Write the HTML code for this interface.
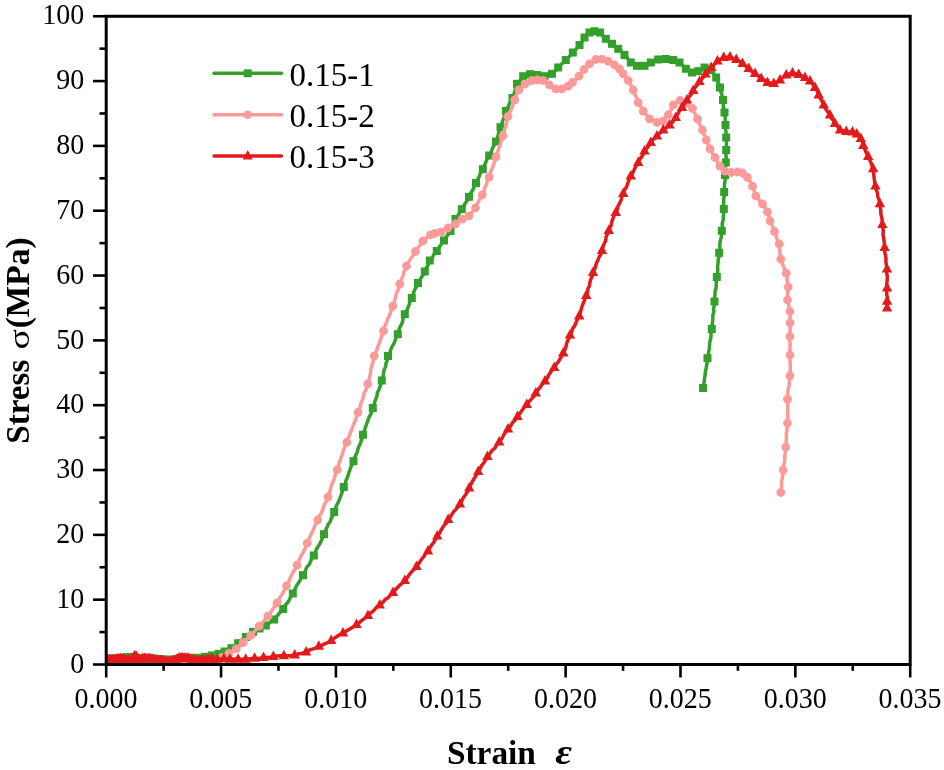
<!DOCTYPE html>
<html><head><meta charset="utf-8"><title>Stress-strain</title>
<style>
html,body{margin:0;padding:0;background:#fff;}
body{width:944px;height:770px;overflow:hidden;}
svg{display:block;}
text{font-family:"Liberation Serif","DejaVu Serif",serif;fill:#000;}
.tl{font-size:28px;}
.lg{font-size:33px;}
.tt{font-size:33px;font-weight:bold;}
.ep{font-size:34px;font-style:italic;font-weight:bold;}
.sg{font-size:33px;}
</style></head><body>
<svg width="944" height="770" viewBox="0 0 944 770"><rect width="944" height="770" fill="#fff"/><clipPath id="c"><rect x="106.2" y="16.25" width="804.0" height="649.75"/></clipPath><g clip-path="url(#c)"><polyline points="108.5,658.7 111.5,658.5 114.5,658.8 117.5,658.4 120.5,658.6 123.5,658.1 126.5,657.1 129.5,657.1 132.5,657.1 135.5,658.3 138.5,658.5 141.5,658.6 144.5,658.8 147.5,659.0 150.5,658.6 153.5,658.6 156.5,658.9 159.5,659.4 162.5,659.4 165.5,659.6 168.5,660.2 171.5,659.6 174.5,659.8 177.5,659.3 180.5,659.1 183.5,658.9 186.5,658.8 189.5,658.9 192.5,658.3 197.5,657.8 201.2,657.2 205.0,656.8 208.4,655.7 211.9,655.4 218.6,653.8 224.6,651.5 227.8,649.4 231.4,648.2 234.6,645.4 238.1,643.2 240.4,640.9 243.2,639.0 245.8,637.0 249.1,634.1 253.0,631.8 256.4,630.5 259.5,628.5 265.8,625.5 268.6,623.6 271.2,621.2 274.2,619.5 276.3,616.7 278.6,614.2 280.9,611.5 283.2,609.0 284.9,605.7 287.3,603.0 289.3,599.9 290.8,596.6 292.8,593.5 294.4,590.5 295.8,587.2 297.6,584.2 299.5,581.3 301.1,578.2 303.0,575.2 304.8,572.6 305.8,569.5 307.2,566.6 309.5,564.2 310.7,561.2 311.9,558.2 313.8,555.5 315.2,552.5 316.3,549.2 318.2,546.4 320.0,543.5 321.4,540.5 322.7,537.4 324.0,534.2 325.3,531.0 326.8,527.8 328.1,524.6 330.1,521.6 331.3,518.4 333.0,515.3 334.2,512.0 335.3,508.8 336.4,505.7 338.1,502.7 339.4,499.7 340.5,496.5 341.7,493.3 342.9,490.2 343.8,487.0 345.2,483.9 346.0,480.5 347.5,477.3 348.5,474.1 349.5,470.8 350.7,467.5 352.1,464.4 353.5,461.2 354.5,457.9 356.0,454.7 357.4,451.5 358.2,448.0 359.8,444.8 361.0,441.5 362.2,438.2 363.0,434.8 364.1,431.4 365.2,428.0 366.4,424.6 367.6,421.3 368.8,417.9 370.4,414.7 371.9,411.5 372.8,408.0 374.0,405.0 374.7,401.9 375.9,398.9 377.0,395.9 377.4,392.6 378.9,389.7 380.1,386.7 381.0,383.6 381.8,380.5 382.9,377.1 383.5,373.5 384.1,369.9 385.6,366.6 386.1,363.0 387.4,359.6 388.0,356.0 389.8,353.1 390.7,349.7 392.1,346.6 393.9,343.7 395.1,340.5 396.1,337.2 397.8,334.2 398.6,330.8 399.8,327.5 401.6,324.4 402.7,321.0 403.3,317.5 404.8,314.2 406.4,311.1 407.9,307.9 409.1,304.6 410.2,301.2 411.8,298.0 413.0,295.0 413.9,291.9 415.1,288.8 417.1,286.2 418.0,283.0 419.8,280.2 421.4,277.3 423.4,274.6 424.8,271.5 426.4,267.8 428.4,264.3 429.8,260.5 432.3,257.5 434.2,254.0 436.8,251.0 439.0,247.4 441.4,243.9 444.0,240.5 446.0,237.2 448.4,234.2 450.5,231.0 451.6,227.9 452.9,225.0 453.9,221.9 455.5,219.0 457.9,215.9 459.6,212.4 461.8,209.2 463.5,206.1 465.4,203.0 467.5,200.1 469.0,196.8 470.7,193.3 472.8,190.0 474.3,186.4 476.0,183.0 477.7,179.6 479.4,176.1 480.7,172.5 482.8,169.2 484.3,165.8 485.7,162.3 487.2,158.7 489.2,155.5 491.2,152.1 492.4,148.4 494.3,145.0 496.0,141.5 497.3,138.0 498.3,134.4 499.2,130.8 500.5,127.2 501.6,124.0 502.7,120.8 504.0,117.6 504.6,114.1 506.0,111.0 507.7,107.8 509.0,104.4 510.7,101.2 512.5,98.0 513.9,94.5 514.8,90.9 515.9,87.3 517.0,83.8 519.3,81.4 521.5,79.0 523.2,76.2 526.6,75.2 530.0,74.2 533.5,74.7 537.0,75.0 540.7,75.6 544.5,76.2 548.3,75.0 552.0,73.8 555.2,70.7 558.2,67.5 560.7,65.0 563.3,62.5 565.8,60.0 568.1,57.5 570.7,55.3 572.8,52.5 575.1,50.1 577.5,47.7 579.5,45.0 582.3,41.5 584.5,37.5 586.8,34.8 589.5,32.5 594.5,31.2 600.0,32.5 602.8,35.7 605.8,38.8 608.6,41.6 612.0,43.8 614.9,46.5 618.2,48.8 621.6,51.6 624.5,55.0 626.8,57.3 628.7,60.0 630.8,62.5 634.1,63.8 637.0,65.8 640.8,65.5 644.5,65.8 647.4,63.8 650.8,62.5 654.6,61.1 658.2,59.5 662.0,59.5 665.8,59.0 669.5,59.9 673.2,60.0 679.5,62.5 682.8,65.4 685.8,68.8 688.8,70.8 692.0,72.5 698.2,71.2 701.4,69.5 704.5,67.5 708.0,68.4 711.2,70.0 713.5,73.9 716.2,77.5 717.1,81.0 719.0,84.1 720.0,87.5 720.4,90.7 721.6,93.7 722.3,96.9 723.0,100.0 723.1,104.2 723.7,108.4 724.5,112.5 725.1,116.6 725.2,120.8 725.5,125.0 725.7,129.2 726.1,133.3 726.2,137.5 726.5,141.7 726.4,145.8 726.2,150.0 725.9,154.2 726.3,158.4 725.8,162.5 725.5,166.7 725.3,170.8 725.0,175.0 725.3,178.4 724.9,181.8 724.4,185.2 724.4,188.6 724.2,192.0 724.5,195.4 723.6,198.8 723.7,202.2 723.4,205.6 723.8,209.0 723.8,212.7 723.3,216.3 723.2,219.9 722.2,223.5 722.3,227.1 721.8,230.8 721.7,234.5 721.0,238.1 720.1,241.7 719.8,245.4 719.9,249.1 719.2,252.8 719.2,256.2 718.2,259.6 718.1,263.1 717.6,266.6 717.8,270.1 717.5,273.6 716.8,277.0 716.3,280.5 716.2,284.0 716.2,287.5 715.1,291.0 715.0,294.5 714.6,298.0 714.5,301.5 714.5,305.0 713.5,308.3 713.9,311.9 712.8,315.2 712.8,318.7 712.6,322.1 712.0,325.6 711.8,329.0 710.9,332.2 711.0,335.5 710.7,338.8 709.8,342.0 709.6,345.3 709.3,348.6 708.7,351.8 708.4,355.1 707.5,358.2 707.3,361.6 706.7,364.9 706.2,368.2 705.3,371.4 705.2,374.8 704.5,378.1 704.3,381.4 703.6,384.7 703.0,388.0" fill="none" stroke="#33a02c" stroke-width="3.5" stroke-linejoin="round" stroke-linecap="round"/><rect x="104.5" y="654.7" width="8.0" height="8.0" fill="#33a02c"/><rect x="107.5" y="654.5" width="8.0" height="8.0" fill="#33a02c"/><rect x="110.5" y="654.8" width="8.0" height="8.0" fill="#33a02c"/><rect x="113.5" y="654.4" width="8.0" height="8.0" fill="#33a02c"/><rect x="116.5" y="654.6" width="8.0" height="8.0" fill="#33a02c"/><rect x="119.5" y="654.1" width="8.0" height="8.0" fill="#33a02c"/><rect x="122.5" y="653.1" width="8.0" height="8.0" fill="#33a02c"/><rect x="125.5" y="653.1" width="8.0" height="8.0" fill="#33a02c"/><rect x="128.5" y="653.1" width="8.0" height="8.0" fill="#33a02c"/><rect x="131.5" y="654.3" width="8.0" height="8.0" fill="#33a02c"/><rect x="134.5" y="654.5" width="8.0" height="8.0" fill="#33a02c"/><rect x="137.5" y="654.6" width="8.0" height="8.0" fill="#33a02c"/><rect x="140.5" y="654.8" width="8.0" height="8.0" fill="#33a02c"/><rect x="143.5" y="655.0" width="8.0" height="8.0" fill="#33a02c"/><rect x="146.5" y="654.6" width="8.0" height="8.0" fill="#33a02c"/><rect x="149.5" y="654.6" width="8.0" height="8.0" fill="#33a02c"/><rect x="152.5" y="654.9" width="8.0" height="8.0" fill="#33a02c"/><rect x="155.5" y="655.4" width="8.0" height="8.0" fill="#33a02c"/><rect x="158.5" y="655.4" width="8.0" height="8.0" fill="#33a02c"/><rect x="161.5" y="655.6" width="8.0" height="8.0" fill="#33a02c"/><rect x="164.5" y="656.2" width="8.0" height="8.0" fill="#33a02c"/><rect x="167.5" y="655.6" width="8.0" height="8.0" fill="#33a02c"/><rect x="170.5" y="655.8" width="8.0" height="8.0" fill="#33a02c"/><rect x="173.5" y="655.3" width="8.0" height="8.0" fill="#33a02c"/><rect x="176.5" y="655.1" width="8.0" height="8.0" fill="#33a02c"/><rect x="179.5" y="654.9" width="8.0" height="8.0" fill="#33a02c"/><rect x="182.5" y="654.8" width="8.0" height="8.0" fill="#33a02c"/><rect x="185.5" y="654.9" width="8.0" height="8.0" fill="#33a02c"/><rect x="188.5" y="654.3" width="8.0" height="8.0" fill="#33a02c"/><rect x="193.5" y="653.8" width="8.0" height="8.0" fill="#33a02c"/><rect x="201.0" y="652.8" width="8.0" height="8.0" fill="#33a02c"/><rect x="207.9" y="651.4" width="8.0" height="8.0" fill="#33a02c"/><rect x="214.6" y="649.8" width="8.0" height="8.0" fill="#33a02c"/><rect x="220.6" y="647.5" width="8.0" height="8.0" fill="#33a02c"/><rect x="227.4" y="644.2" width="8.0" height="8.0" fill="#33a02c"/><rect x="234.1" y="639.2" width="8.0" height="8.0" fill="#33a02c"/><rect x="241.8" y="633.0" width="8.0" height="8.0" fill="#33a02c"/><rect x="249.0" y="627.8" width="8.0" height="8.0" fill="#33a02c"/><rect x="255.5" y="624.5" width="8.0" height="8.0" fill="#33a02c"/><rect x="261.8" y="621.5" width="8.0" height="8.0" fill="#33a02c"/><rect x="270.2" y="615.5" width="8.0" height="8.0" fill="#33a02c"/><rect x="279.2" y="605.0" width="8.0" height="8.0" fill="#33a02c"/><rect x="288.8" y="589.5" width="8.0" height="8.0" fill="#33a02c"/><rect x="299.0" y="571.2" width="8.0" height="8.0" fill="#33a02c"/><rect x="309.8" y="551.5" width="8.0" height="8.0" fill="#33a02c"/><rect x="320.0" y="530.2" width="8.0" height="8.0" fill="#33a02c"/><rect x="330.2" y="508.0" width="8.0" height="8.0" fill="#33a02c"/><rect x="339.8" y="483.0" width="8.0" height="8.0" fill="#33a02c"/><rect x="349.5" y="457.2" width="8.0" height="8.0" fill="#33a02c"/><rect x="359.0" y="430.8" width="8.0" height="8.0" fill="#33a02c"/><rect x="368.8" y="404.0" width="8.0" height="8.0" fill="#33a02c"/><rect x="377.8" y="376.5" width="8.0" height="8.0" fill="#33a02c"/><rect x="384.0" y="352.0" width="8.0" height="8.0" fill="#33a02c"/><rect x="393.8" y="330.2" width="8.0" height="8.0" fill="#33a02c"/><rect x="400.8" y="310.2" width="8.0" height="8.0" fill="#33a02c"/><rect x="407.8" y="294.0" width="8.0" height="8.0" fill="#33a02c"/><rect x="414.0" y="279.0" width="8.0" height="8.0" fill="#33a02c"/><rect x="420.8" y="267.5" width="8.0" height="8.0" fill="#33a02c"/><rect x="425.8" y="256.5" width="8.0" height="8.0" fill="#33a02c"/><rect x="432.8" y="247.0" width="8.0" height="8.0" fill="#33a02c"/><rect x="440.0" y="236.5" width="8.0" height="8.0" fill="#33a02c"/><rect x="446.5" y="227.0" width="8.0" height="8.0" fill="#33a02c"/><rect x="451.5" y="215.0" width="8.0" height="8.0" fill="#33a02c"/><rect x="457.8" y="205.2" width="8.0" height="8.0" fill="#33a02c"/><rect x="465.0" y="192.8" width="8.0" height="8.0" fill="#33a02c"/><rect x="472.0" y="179.0" width="8.0" height="8.0" fill="#33a02c"/><rect x="478.8" y="165.2" width="8.0" height="8.0" fill="#33a02c"/><rect x="485.2" y="151.5" width="8.0" height="8.0" fill="#33a02c"/><rect x="492.0" y="137.5" width="8.0" height="8.0" fill="#33a02c"/><rect x="496.5" y="123.2" width="8.0" height="8.0" fill="#33a02c"/><rect x="502.0" y="107.0" width="8.0" height="8.0" fill="#33a02c"/><rect x="508.5" y="94.0" width="8.0" height="8.0" fill="#33a02c"/><rect x="513.0" y="79.8" width="8.0" height="8.0" fill="#33a02c"/><rect x="519.2" y="72.2" width="8.0" height="8.0" fill="#33a02c"/><rect x="526.0" y="70.2" width="8.0" height="8.0" fill="#33a02c"/><rect x="533.0" y="71.0" width="8.0" height="8.0" fill="#33a02c"/><rect x="540.5" y="72.2" width="8.0" height="8.0" fill="#33a02c"/><rect x="548.0" y="69.8" width="8.0" height="8.0" fill="#33a02c"/><rect x="554.2" y="63.5" width="8.0" height="8.0" fill="#33a02c"/><rect x="561.8" y="56.0" width="8.0" height="8.0" fill="#33a02c"/><rect x="568.8" y="48.5" width="8.0" height="8.0" fill="#33a02c"/><rect x="575.5" y="41.0" width="8.0" height="8.0" fill="#33a02c"/><rect x="580.5" y="33.5" width="8.0" height="8.0" fill="#33a02c"/><rect x="585.5" y="28.5" width="8.0" height="8.0" fill="#33a02c"/><rect x="590.5" y="27.2" width="8.0" height="8.0" fill="#33a02c"/><rect x="596.0" y="28.5" width="8.0" height="8.0" fill="#33a02c"/><rect x="601.8" y="34.8" width="8.0" height="8.0" fill="#33a02c"/><rect x="608.0" y="39.8" width="8.0" height="8.0" fill="#33a02c"/><rect x="614.2" y="44.8" width="8.0" height="8.0" fill="#33a02c"/><rect x="620.5" y="51.0" width="8.0" height="8.0" fill="#33a02c"/><rect x="626.8" y="58.5" width="8.0" height="8.0" fill="#33a02c"/><rect x="633.0" y="61.8" width="8.0" height="8.0" fill="#33a02c"/><rect x="640.5" y="61.8" width="8.0" height="8.0" fill="#33a02c"/><rect x="646.8" y="58.5" width="8.0" height="8.0" fill="#33a02c"/><rect x="654.2" y="55.5" width="8.0" height="8.0" fill="#33a02c"/><rect x="661.8" y="55.0" width="8.0" height="8.0" fill="#33a02c"/><rect x="669.2" y="56.0" width="8.0" height="8.0" fill="#33a02c"/><rect x="675.5" y="58.5" width="8.0" height="8.0" fill="#33a02c"/><rect x="681.8" y="64.8" width="8.0" height="8.0" fill="#33a02c"/><rect x="688.0" y="68.5" width="8.0" height="8.0" fill="#33a02c"/><rect x="694.2" y="67.2" width="8.0" height="8.0" fill="#33a02c"/><rect x="700.5" y="63.5" width="8.0" height="8.0" fill="#33a02c"/><rect x="707.2" y="66.0" width="8.0" height="8.0" fill="#33a02c"/><rect x="712.2" y="73.5" width="8.0" height="8.0" fill="#33a02c"/><rect x="716.0" y="83.5" width="8.0" height="8.0" fill="#33a02c"/><rect x="719.0" y="96.0" width="8.0" height="8.0" fill="#33a02c"/><rect x="720.5" y="108.5" width="8.0" height="8.0" fill="#33a02c"/><rect x="721.5" y="121.0" width="8.0" height="8.0" fill="#33a02c"/><rect x="722.2" y="133.5" width="8.0" height="8.0" fill="#33a02c"/><rect x="722.2" y="146.0" width="8.0" height="8.0" fill="#33a02c"/><rect x="721.8" y="158.5" width="8.0" height="8.0" fill="#33a02c"/><rect x="721.0" y="171.0" width="8.0" height="8.0" fill="#33a02c"/><rect x="720.2" y="188.0" width="8.0" height="8.0" fill="#33a02c"/><rect x="719.8" y="205.0" width="8.0" height="8.0" fill="#33a02c"/><rect x="717.8" y="226.8" width="8.0" height="8.0" fill="#33a02c"/><rect x="715.2" y="248.8" width="8.0" height="8.0" fill="#33a02c"/><rect x="712.8" y="273.0" width="8.0" height="8.0" fill="#33a02c"/><rect x="710.5" y="297.5" width="8.0" height="8.0" fill="#33a02c"/><rect x="707.8" y="325.0" width="8.0" height="8.0" fill="#33a02c"/><rect x="703.5" y="354.2" width="8.0" height="8.0" fill="#33a02c"/><rect x="699.0" y="384.0" width="8.0" height="8.0" fill="#33a02c"/><polyline points="108.5,661.6 111.7,661.7 114.9,661.3 118.1,661.6 121.3,661.0 124.5,661.0 127.7,661.1 130.9,661.7 134.1,661.4 137.3,661.3 140.5,661.6 143.7,661.4 146.9,661.3 150.1,661.9 153.3,661.7 156.5,661.2 159.7,661.6 162.9,661.5 166.1,662.0 169.3,661.8 172.5,661.2 175.7,662.1 178.9,661.0 182.1,661.4 185.3,661.8 188.5,661.1 191.7,661.5 194.9,660.9 198.1,661.7 201.3,661.8 204.5,661.6 207.7,662.0 210.9,661.3 214.5,659.6 218.2,658.5 222.0,657.5 225.3,655.0 229.0,653.3 232.7,651.2 236.2,648.8 239.8,645.7 243.2,642.6 245.6,640.0 248.2,637.8 250.8,635.4 253.9,632.6 256.2,629.1 259.2,626.2 261.7,623.9 263.6,621.2 265.8,618.7 268.0,616.2 270.0,613.8 271.5,610.9 273.4,608.3 275.3,605.7 277.0,603.0 279.0,600.4 280.0,597.3 282.0,594.6 283.5,591.8 285.0,588.9 286.5,586.0 287.9,583.0 289.4,580.0 290.6,576.9 292.2,574.0 293.7,571.0 295.7,568.3 297.0,565.2 298.3,562.0 299.7,558.8 301.1,555.7 303.1,552.8 304.6,549.7 305.9,546.5 307.2,543.2 308.6,539.8 310.0,536.5 311.6,533.2 313.2,529.9 314.5,526.5 316.2,523.3 317.8,520.0 319.0,516.6 321.1,513.6 322.5,510.3 323.6,506.9 324.9,503.5 326.9,500.5 328.0,497.0 329.0,493.5 330.2,490.1 331.0,486.6 332.5,483.3 333.8,480.0 334.9,476.6 335.8,473.1 337.2,469.8 338.3,466.7 338.9,463.5 340.2,460.5 341.1,457.4 342.4,454.4 343.2,451.3 344.2,448.2 345.5,445.2 346.8,442.2 347.8,438.9 349.3,435.7 350.5,432.3 352.0,429.1 353.1,425.8 354.4,422.5 355.8,419.2 356.7,415.8 358.0,412.5 358.9,409.3 360.6,406.3 361.0,402.8 362.5,399.8 363.5,396.6 364.1,393.2 365.9,390.2 367.0,387.1 367.8,383.8 368.7,380.3 369.6,376.9 370.5,373.4 370.7,369.8 371.8,366.4 372.6,362.9 373.7,359.5 374.2,356.0 375.7,353.0 376.8,349.9 377.8,346.7 379.2,343.6 380.2,340.4 381.4,337.3 382.1,334.0 383.5,331.0 384.3,327.8 385.5,324.7 386.9,321.7 387.8,318.5 389.6,315.6 390.5,312.5 391.7,309.4 392.8,306.2 393.9,303.1 394.9,299.9 395.7,296.7 396.3,293.4 398.0,290.4 399.0,287.2 399.8,284.0 400.9,281.0 402.0,278.0 403.3,275.1 403.9,271.9 405.6,269.1 406.5,266.0 408.1,263.0 409.8,260.0 411.7,257.2 413.9,254.5 415.5,251.5 417.7,247.8 420.5,244.6 422.8,241.0 425.6,239.2 427.9,236.8 430.5,234.8 434.8,233.5 441.0,232.2 444.4,230.0 448.0,228.0 451.7,226.0 455.5,224.0 459.0,221.8 462.2,219.2 465.7,217.8 469.0,216.0 471.2,213.4 473.4,210.7 475.5,208.0 476.8,204.5 478.6,201.2 480.4,198.0 482.2,194.8 483.9,191.3 484.9,187.7 486.5,184.3 487.4,180.6 489.2,177.2 490.0,173.7 491.3,170.4 492.8,167.0 493.9,163.6 495.0,160.2 496.0,156.8 497.0,153.2 498.3,149.8 499.5,146.4 500.6,142.9 501.5,139.3 503.0,136.0 504.2,132.8 504.4,129.4 505.9,126.4 506.7,123.1 506.7,119.6 508.0,116.5 509.3,113.1 511.0,109.9 512.4,106.6 513.4,103.1 514.8,99.8 516.0,96.4 517.3,93.1 519.0,90.0 522.4,87.2 525.2,83.8 528.5,81.9 532.0,80.5 537.5,80.0 543.2,80.5 546.3,82.8 549.5,85.0 552.8,86.6 555.8,88.8 562.0,88.8 568.2,86.2 572.5,82.5 575.8,79.4 579.0,76.2 581.8,73.1 584.0,69.5 586.5,66.4 589.5,63.8 592.8,61.9 595.8,59.5 602.0,59.2 608.2,61.2 611.4,63.1 614.5,65.0 619.5,68.8 623.2,73.8 625.5,77.3 628.2,80.5 629.8,83.8 631.8,86.7 633.2,90.0 634.2,93.3 635.8,96.2 637.4,99.2 638.2,102.5 640.3,105.2 641.6,108.3 643.2,111.2 645.4,113.7 647.6,116.1 649.5,118.8 653.4,120.3 657.0,122.5 663.2,121.2 665.6,118.0 668.2,115.0 669.8,111.6 671.9,108.5 673.2,105.0 676.4,102.4 680.0,100.5 686.2,103.0 689.2,105.9 692.5,108.5 693.9,112.1 696.1,115.4 697.5,119.0 698.8,122.8 700.7,126.4 702.5,130.0 703.4,133.5 705.2,136.6 706.2,140.0 708.2,144.3 710.0,148.8 711.8,151.6 712.9,154.8 715.0,157.5 716.6,160.5 718.4,163.3 720.0,166.2 722.5,168.7 725.0,171.2 731.2,172.5 737.5,172.0 742.5,173.0 747.5,177.5 749.3,180.3 751.2,183.1 752.5,186.2 753.9,189.3 754.4,192.7 755.8,195.8 758.1,198.4 759.9,201.5 762.5,204.0 765.2,207.9 767.5,212.0 769.0,216.3 770.0,220.8 771.5,224.3 773.3,227.8 774.5,231.5 775.8,234.6 776.5,237.9 777.7,241.0 779.2,244.0 779.3,247.8 779.9,251.5 780.0,255.3 780.8,259.0 781.8,262.7 783.5,266.1 784.7,269.8 786.2,273.2 787.2,276.6 787.0,280.2 787.8,283.6 788.2,287.0 787.8,290.2 787.7,293.5 787.9,296.8 787.5,300.0 788.7,303.7 788.8,307.7 790.0,311.5 790.3,315.2 790.0,319.0 790.0,322.8 790.1,326.2 790.2,329.6 789.8,333.1 790.0,336.5 789.6,340.2 790.2,343.9 789.9,347.6 790.2,351.3 790.0,355.0 789.9,358.5 790.1,361.9 790.3,365.4 790.3,368.8 790.3,372.3 790.0,375.8 789.3,379.1 789.3,382.5 789.2,385.8 788.2,389.1 787.8,392.5 787.9,395.9 787.5,399.2 787.8,402.6 787.8,406.0 787.9,409.4 787.6,412.8 787.9,416.2 787.7,419.6 787.5,423.0 787.5,426.4 786.9,429.9 786.4,433.3 786.3,436.7 786.3,440.1 786.1,443.6 785.8,447.0 785.4,450.3 785.1,453.6 784.8,456.9 784.7,460.2 784.2,463.5 783.2,466.7 783.2,470.0 783.2,473.3 782.5,476.4 782.1,479.6 781.5,482.8 781.7,486.1 781.3,489.3 780.8,492.5" fill="none" stroke="#fb9a99" stroke-width="3.5" stroke-linejoin="round" stroke-linecap="round"/><circle cx="108.5" cy="661.6" r="4.4" fill="#fb9a99"/><circle cx="111.7" cy="661.7" r="4.4" fill="#fb9a99"/><circle cx="114.9" cy="661.3" r="4.4" fill="#fb9a99"/><circle cx="118.1" cy="661.6" r="4.4" fill="#fb9a99"/><circle cx="121.3" cy="661.0" r="4.4" fill="#fb9a99"/><circle cx="124.5" cy="661.0" r="4.4" fill="#fb9a99"/><circle cx="127.7" cy="661.1" r="4.4" fill="#fb9a99"/><circle cx="130.9" cy="661.7" r="4.4" fill="#fb9a99"/><circle cx="134.1" cy="661.4" r="4.4" fill="#fb9a99"/><circle cx="137.3" cy="661.3" r="4.4" fill="#fb9a99"/><circle cx="140.5" cy="661.6" r="4.4" fill="#fb9a99"/><circle cx="143.7" cy="661.4" r="4.4" fill="#fb9a99"/><circle cx="146.9" cy="661.3" r="4.4" fill="#fb9a99"/><circle cx="150.1" cy="661.9" r="4.4" fill="#fb9a99"/><circle cx="153.3" cy="661.7" r="4.4" fill="#fb9a99"/><circle cx="156.5" cy="661.2" r="4.4" fill="#fb9a99"/><circle cx="159.7" cy="661.6" r="4.4" fill="#fb9a99"/><circle cx="162.9" cy="661.5" r="4.4" fill="#fb9a99"/><circle cx="166.1" cy="662.0" r="4.4" fill="#fb9a99"/><circle cx="169.3" cy="661.8" r="4.4" fill="#fb9a99"/><circle cx="172.5" cy="661.2" r="4.4" fill="#fb9a99"/><circle cx="175.7" cy="662.1" r="4.4" fill="#fb9a99"/><circle cx="178.9" cy="661.0" r="4.4" fill="#fb9a99"/><circle cx="182.1" cy="661.4" r="4.4" fill="#fb9a99"/><circle cx="185.3" cy="661.8" r="4.4" fill="#fb9a99"/><circle cx="188.5" cy="661.1" r="4.4" fill="#fb9a99"/><circle cx="191.7" cy="661.5" r="4.4" fill="#fb9a99"/><circle cx="194.9" cy="660.9" r="4.4" fill="#fb9a99"/><circle cx="198.1" cy="661.7" r="4.4" fill="#fb9a99"/><circle cx="201.3" cy="661.8" r="4.4" fill="#fb9a99"/><circle cx="204.5" cy="661.6" r="4.4" fill="#fb9a99"/><circle cx="207.7" cy="662.0" r="4.4" fill="#fb9a99"/><circle cx="210.9" cy="661.3" r="4.4" fill="#fb9a99"/><circle cx="222.0" cy="657.5" r="4.4" fill="#fb9a99"/><circle cx="229.0" cy="653.3" r="4.4" fill="#fb9a99"/><circle cx="236.2" cy="648.8" r="4.4" fill="#fb9a99"/><circle cx="243.2" cy="642.6" r="4.4" fill="#fb9a99"/><circle cx="250.8" cy="635.4" r="4.4" fill="#fb9a99"/><circle cx="259.2" cy="626.2" r="4.4" fill="#fb9a99"/><circle cx="268.0" cy="616.2" r="4.4" fill="#fb9a99"/><circle cx="277.0" cy="603.0" r="4.4" fill="#fb9a99"/><circle cx="286.5" cy="586.0" r="4.4" fill="#fb9a99"/><circle cx="297.0" cy="565.2" r="4.4" fill="#fb9a99"/><circle cx="307.2" cy="543.2" r="4.4" fill="#fb9a99"/><circle cx="317.8" cy="520.0" r="4.4" fill="#fb9a99"/><circle cx="328.0" cy="497.0" r="4.4" fill="#fb9a99"/><circle cx="337.2" cy="469.8" r="4.4" fill="#fb9a99"/><circle cx="346.8" cy="442.2" r="4.4" fill="#fb9a99"/><circle cx="358.0" cy="412.5" r="4.4" fill="#fb9a99"/><circle cx="367.8" cy="383.8" r="4.4" fill="#fb9a99"/><circle cx="374.2" cy="356.0" r="4.4" fill="#fb9a99"/><circle cx="383.5" cy="331.0" r="4.4" fill="#fb9a99"/><circle cx="392.8" cy="306.2" r="4.4" fill="#fb9a99"/><circle cx="399.8" cy="284.0" r="4.4" fill="#fb9a99"/><circle cx="406.5" cy="266.0" r="4.4" fill="#fb9a99"/><circle cx="415.5" cy="251.5" r="4.4" fill="#fb9a99"/><circle cx="422.8" cy="241.0" r="4.4" fill="#fb9a99"/><circle cx="430.5" cy="234.8" r="4.4" fill="#fb9a99"/><circle cx="434.8" cy="233.5" r="4.4" fill="#fb9a99"/><circle cx="441.0" cy="232.2" r="4.4" fill="#fb9a99"/><circle cx="448.0" cy="228.0" r="4.4" fill="#fb9a99"/><circle cx="455.5" cy="224.0" r="4.4" fill="#fb9a99"/><circle cx="462.2" cy="219.2" r="4.4" fill="#fb9a99"/><circle cx="469.0" cy="216.0" r="4.4" fill="#fb9a99"/><circle cx="475.5" cy="208.0" r="4.4" fill="#fb9a99"/><circle cx="482.2" cy="194.8" r="4.4" fill="#fb9a99"/><circle cx="489.2" cy="177.2" r="4.4" fill="#fb9a99"/><circle cx="496.0" cy="156.8" r="4.4" fill="#fb9a99"/><circle cx="503.0" cy="136.0" r="4.4" fill="#fb9a99"/><circle cx="508.0" cy="116.5" r="4.4" fill="#fb9a99"/><circle cx="514.8" cy="99.8" r="4.4" fill="#fb9a99"/><circle cx="519.0" cy="90.0" r="4.4" fill="#fb9a99"/><circle cx="525.2" cy="83.8" r="4.4" fill="#fb9a99"/><circle cx="532.0" cy="80.5" r="4.4" fill="#fb9a99"/><circle cx="537.5" cy="80.0" r="4.4" fill="#fb9a99"/><circle cx="543.2" cy="80.5" r="4.4" fill="#fb9a99"/><circle cx="549.5" cy="85.0" r="4.4" fill="#fb9a99"/><circle cx="555.8" cy="88.8" r="4.4" fill="#fb9a99"/><circle cx="562.0" cy="88.8" r="4.4" fill="#fb9a99"/><circle cx="568.2" cy="86.2" r="4.4" fill="#fb9a99"/><circle cx="572.5" cy="82.5" r="4.4" fill="#fb9a99"/><circle cx="579.0" cy="76.2" r="4.4" fill="#fb9a99"/><circle cx="584.0" cy="69.5" r="4.4" fill="#fb9a99"/><circle cx="589.5" cy="63.8" r="4.4" fill="#fb9a99"/><circle cx="595.8" cy="59.5" r="4.4" fill="#fb9a99"/><circle cx="602.0" cy="59.2" r="4.4" fill="#fb9a99"/><circle cx="608.2" cy="61.2" r="4.4" fill="#fb9a99"/><circle cx="614.5" cy="65.0" r="4.4" fill="#fb9a99"/><circle cx="619.5" cy="68.8" r="4.4" fill="#fb9a99"/><circle cx="623.2" cy="73.8" r="4.4" fill="#fb9a99"/><circle cx="628.2" cy="80.5" r="4.4" fill="#fb9a99"/><circle cx="633.2" cy="90.0" r="4.4" fill="#fb9a99"/><circle cx="638.2" cy="102.5" r="4.4" fill="#fb9a99"/><circle cx="643.2" cy="111.2" r="4.4" fill="#fb9a99"/><circle cx="649.5" cy="118.8" r="4.4" fill="#fb9a99"/><circle cx="657.0" cy="122.5" r="4.4" fill="#fb9a99"/><circle cx="663.2" cy="121.2" r="4.4" fill="#fb9a99"/><circle cx="668.2" cy="115.0" r="4.4" fill="#fb9a99"/><circle cx="673.2" cy="105.0" r="4.4" fill="#fb9a99"/><circle cx="680.0" cy="100.5" r="4.4" fill="#fb9a99"/><circle cx="686.2" cy="103.0" r="4.4" fill="#fb9a99"/><circle cx="692.5" cy="108.5" r="4.4" fill="#fb9a99"/><circle cx="697.5" cy="119.0" r="4.4" fill="#fb9a99"/><circle cx="702.5" cy="130.0" r="4.4" fill="#fb9a99"/><circle cx="706.2" cy="140.0" r="4.4" fill="#fb9a99"/><circle cx="710.0" cy="148.8" r="4.4" fill="#fb9a99"/><circle cx="715.0" cy="157.5" r="4.4" fill="#fb9a99"/><circle cx="720.0" cy="166.2" r="4.4" fill="#fb9a99"/><circle cx="725.0" cy="171.2" r="4.4" fill="#fb9a99"/><circle cx="731.2" cy="172.5" r="4.4" fill="#fb9a99"/><circle cx="737.5" cy="172.0" r="4.4" fill="#fb9a99"/><circle cx="742.5" cy="173.0" r="4.4" fill="#fb9a99"/><circle cx="747.5" cy="177.5" r="4.4" fill="#fb9a99"/><circle cx="752.5" cy="186.2" r="4.4" fill="#fb9a99"/><circle cx="755.8" cy="195.8" r="4.4" fill="#fb9a99"/><circle cx="762.5" cy="204.0" r="4.4" fill="#fb9a99"/><circle cx="767.5" cy="212.0" r="4.4" fill="#fb9a99"/><circle cx="770.0" cy="220.8" r="4.4" fill="#fb9a99"/><circle cx="774.5" cy="231.5" r="4.4" fill="#fb9a99"/><circle cx="779.2" cy="244.0" r="4.4" fill="#fb9a99"/><circle cx="780.8" cy="259.0" r="4.4" fill="#fb9a99"/><circle cx="786.2" cy="273.2" r="4.4" fill="#fb9a99"/><circle cx="788.2" cy="287.0" r="4.4" fill="#fb9a99"/><circle cx="787.5" cy="300.0" r="4.4" fill="#fb9a99"/><circle cx="790.0" cy="311.5" r="4.4" fill="#fb9a99"/><circle cx="790.0" cy="322.8" r="4.4" fill="#fb9a99"/><circle cx="790.0" cy="336.5" r="4.4" fill="#fb9a99"/><circle cx="790.0" cy="355.0" r="4.4" fill="#fb9a99"/><circle cx="790.0" cy="375.8" r="4.4" fill="#fb9a99"/><circle cx="787.5" cy="399.2" r="4.4" fill="#fb9a99"/><circle cx="787.5" cy="423.0" r="4.4" fill="#fb9a99"/><circle cx="785.8" cy="447.0" r="4.4" fill="#fb9a99"/><circle cx="783.2" cy="470.0" r="4.4" fill="#fb9a99"/><circle cx="780.8" cy="492.5" r="4.4" fill="#fb9a99"/><polyline points="107.5,660.1 109.1,660.0 110.7,660.0 112.3,659.8 113.9,660.2 115.5,659.9 117.1,659.0 118.7,659.2 120.3,658.6 121.9,659.3 123.5,659.2 125.1,660.1 126.7,660.8 128.3,660.3 129.9,660.4 131.5,660.2 133.1,657.9 134.7,656.0 136.3,656.7 137.9,658.7 139.5,660.1 141.1,659.9 142.7,658.7 144.3,658.6 145.9,658.6 147.5,659.3 149.1,658.6 150.7,659.2 152.3,659.5 153.9,660.0 155.5,660.3 157.1,661.0 158.7,660.7 160.3,660.8 161.9,660.7 163.5,661.3 165.1,661.9 166.7,661.8 168.3,662.0 169.9,662.1 171.5,661.6 173.1,660.5 174.7,660.5 176.3,660.0 177.9,658.8 179.5,658.2 181.1,658.0 182.7,658.1 184.3,658.4 185.9,658.3 187.5,658.3 189.1,658.6 190.7,659.4 192.3,659.4 193.9,660.8 195.5,661.0 197.1,661.1 198.7,661.0 200.3,660.6 201.9,660.5 203.5,660.2 205.1,660.8 206.7,660.1 208.3,660.1 209.9,659.9 211.5,659.3 212.7,659.7 217.2,659.3 223.9,658.8 229.9,659.3 234.0,659.1 238.1,659.3 241.9,659.2 245.7,659.3 250.1,658.8 254.6,658.4 259.1,658.4 263.5,657.5 266.8,657.5 270.1,657.2 273.4,656.5 276.9,655.9 280.4,655.7 283.9,655.9 287.5,655.8 291.1,655.7 294.7,655.0 298.5,654.0 302.3,653.1 306.1,652.0 309.1,650.2 312.4,649.1 315.8,648.1 318.8,646.3 322.0,645.1 325.2,643.7 328.3,642.3 331.2,640.5 334.1,638.4 336.9,636.5 339.9,634.6 343.0,633.0 346.4,630.9 349.8,628.9 353.3,627.0 356.5,624.5 359.5,622.4 362.3,620.1 365.3,617.9 368.0,615.5 370.9,612.8 373.9,610.3 376.5,607.3 379.8,605.0 382.6,602.7 384.9,599.8 388.0,597.8 390.4,595.1 393.0,592.5 395.2,590.0 397.5,587.5 399.9,585.1 402.5,583.0 404.8,580.5 407.2,577.8 409.2,574.7 411.5,571.9 414.2,569.3 416.5,566.5 418.5,564.0 420.3,561.3 422.1,558.6 424.2,556.2 425.7,553.3 428.0,551.0 429.7,547.9 431.7,545.0 433.9,542.2 435.5,539.1 437.2,536.0 439.4,533.4 440.9,530.5 442.6,527.6 444.4,524.9 446.8,522.5 448.2,519.5 450.4,517.0 452.0,514.2 453.8,511.5 456.1,509.2 458.2,506.7 460.0,504.0 461.8,500.8 463.5,497.5 465.7,494.5 467.7,491.4 469.2,488.0 470.8,484.6 472.5,481.2 474.5,478.0 476.4,474.8 478.2,471.5 480.2,468.6 481.7,465.4 484.0,462.6 485.8,459.6 487.5,456.5 489.9,453.6 492.0,450.5 494.9,448.1 496.8,444.8 499.2,442.0 501.7,438.9 503.4,435.4 505.6,432.1 508.0,429.0 510.6,426.0 512.6,422.6 515.4,419.9 517.5,416.5 519.8,413.6 521.9,410.5 524.2,407.5 526.8,404.8 528.9,401.8 531.4,399.1 533.8,396.4 535.8,393.2 537.8,390.0 540.3,387.1 542.5,383.9 545.0,381.0 547.2,378.6 548.4,375.5 550.2,372.8 552.1,370.2 554.2,367.8 556.0,364.7 558.2,362.0 559.9,359.1 561.6,356.1 563.2,353.0 564.8,350.2 565.9,347.1 566.5,343.9 567.5,340.9 569.2,338.1 570.0,335.0 571.7,331.9 572.7,328.5 574.8,325.6 576.1,322.3 577.6,319.1 579.2,316.0 580.3,312.5 581.3,309.1 582.3,305.6 583.7,302.3 585.0,298.9 586.2,295.5 587.6,292.3 587.9,288.8 589.5,285.8 589.9,282.3 590.9,279.0 592.3,275.9 593.0,272.5 594.6,269.5 595.5,266.2 596.5,262.9 598.1,259.9 599.3,256.7 601.1,253.8 602.0,250.5 602.9,247.1 604.1,243.8 605.7,240.6 606.1,237.0 607.5,233.8 608.8,230.5 610.2,227.6 611.3,224.6 611.9,221.4 613.0,218.3 614.2,215.4 615.8,212.5 617.4,209.5 618.0,206.1 619.7,203.1 621.1,200.0 621.9,196.6 623.2,193.5 624.6,190.0 626.6,186.8 627.8,183.2 629.1,179.6 630.8,176.2 632.8,172.9 634.4,169.3 636.2,165.8 638.2,162.5 639.4,159.5 641.6,157.0 643.3,154.2 644.5,151.2 646.7,148.4 649.0,145.6 650.8,142.5 653.6,139.1 657.0,136.2 660.0,133.0 663.2,130.0 666.4,127.5 669.5,125.0 671.9,122.8 674.0,120.3 675.8,117.5 677.7,114.1 679.7,110.7 682.0,107.5 684.4,103.7 687.0,100.0 689.1,96.8 691.5,93.9 693.2,90.5 695.1,87.3 697.6,84.7 699.5,81.5 701.7,79.1 703.7,76.7 705.5,74.0 708.6,70.9 711.2,67.5 714.4,64.4 717.5,61.2 720.5,59.2 723.8,57.5 730.0,57.0 736.2,59.5 739.5,61.5 742.5,63.8 745.7,66.2 748.8,68.8 751.7,71.4 755.0,73.8 758.4,76.0 761.2,78.8 764.5,80.4 767.5,82.5 773.8,83.8 777.0,82.1 780.0,80.0 783.0,77.3 786.2,75.0 792.5,73.2 798.8,74.5 805.0,77.5 810.0,81.2 812.8,84.1 815.0,87.5 817.3,91.1 818.8,95.0 820.4,98.4 822.2,101.6 823.8,105.0 825.5,108.6 827.6,111.8 830.0,115.0 831.3,118.1 833.5,120.7 835.0,123.8 837.8,126.6 840.0,130.0 846.2,131.6 852.5,132.2 856.8,134.0 860.8,138.5 862.4,142.0 863.3,145.7 864.9,149.3 866.4,153.0 868.2,156.5 869.5,159.6 870.9,162.6 872.0,165.8 873.2,168.9 873.5,172.3 873.9,175.8 874.3,179.2 874.7,182.6 875.4,186.0 876.2,189.6 877.5,193.0 877.8,196.8 879.2,200.2 879.9,203.8 880.3,207.3 880.8,210.7 880.9,214.2 881.8,217.6 882.2,221.1 882.4,224.6 882.9,227.9 883.3,231.2 883.0,234.5 883.6,237.8 884.1,241.1 884.4,244.4 884.6,247.7 884.6,251.3 885.4,254.8 886.0,258.4 885.9,262.0 886.5,265.5 887.0,269.1 886.6,272.9 887.4,276.7 887.1,280.4 886.8,284.2 887.1,288.0 886.8,291.4 886.7,294.7 887.5,298.0 887.1,301.4 887.1,308.0" fill="none" stroke="#e31a1c" stroke-width="3.5" stroke-linejoin="round" stroke-linecap="round"/><polygon points="107.5,654.0 102.3,663.5 112.7,663.5" fill="#e31a1c"/><polygon points="109.1,653.9 103.9,663.4 114.3,663.4" fill="#e31a1c"/><polygon points="110.7,653.9 105.5,663.4 115.9,663.4" fill="#e31a1c"/><polygon points="112.3,653.7 107.1,663.2 117.5,663.2" fill="#e31a1c"/><polygon points="113.9,654.1 108.7,663.6 119.1,663.6" fill="#e31a1c"/><polygon points="115.5,653.8 110.3,663.3 120.7,663.3" fill="#e31a1c"/><polygon points="117.1,652.9 111.9,662.4 122.3,662.4" fill="#e31a1c"/><polygon points="118.7,653.1 113.5,662.6 123.9,662.6" fill="#e31a1c"/><polygon points="120.3,652.4 115.1,661.9 125.5,661.9" fill="#e31a1c"/><polygon points="121.9,653.1 116.7,662.6 127.1,662.6" fill="#e31a1c"/><polygon points="123.5,653.1 118.3,662.6 128.7,662.6" fill="#e31a1c"/><polygon points="125.1,654.0 119.9,663.5 130.3,663.5" fill="#e31a1c"/><polygon points="126.7,654.6 121.5,664.1 131.9,664.1" fill="#e31a1c"/><polygon points="128.3,654.2 123.1,663.7 133.5,663.7" fill="#e31a1c"/><polygon points="129.9,654.3 124.7,663.8 135.1,663.8" fill="#e31a1c"/><polygon points="131.5,654.1 126.3,663.6 136.7,663.6" fill="#e31a1c"/><polygon points="133.1,651.8 127.9,661.3 138.3,661.3" fill="#e31a1c"/><polygon points="134.7,649.8 129.5,659.3 139.9,659.3" fill="#e31a1c"/><polygon points="136.3,650.6 131.1,660.1 141.5,660.1" fill="#e31a1c"/><polygon points="137.9,652.6 132.7,662.1 143.1,662.1" fill="#e31a1c"/><polygon points="139.5,653.9 134.3,663.4 144.7,663.4" fill="#e31a1c"/><polygon points="141.1,653.8 135.9,663.3 146.3,663.3" fill="#e31a1c"/><polygon points="142.7,652.5 137.5,662.0 147.9,662.0" fill="#e31a1c"/><polygon points="144.3,652.5 139.1,662.0 149.5,662.0" fill="#e31a1c"/><polygon points="145.9,652.5 140.7,662.0 151.1,662.0" fill="#e31a1c"/><polygon points="147.5,653.2 142.3,662.7 152.7,662.7" fill="#e31a1c"/><polygon points="149.1,652.5 143.9,662.0 154.3,662.0" fill="#e31a1c"/><polygon points="150.7,653.1 145.5,662.6 155.9,662.6" fill="#e31a1c"/><polygon points="152.3,653.4 147.1,662.9 157.5,662.9" fill="#e31a1c"/><polygon points="153.9,653.9 148.7,663.4 159.1,663.4" fill="#e31a1c"/><polygon points="155.5,654.2 150.3,663.7 160.7,663.7" fill="#e31a1c"/><polygon points="157.1,654.9 151.9,664.4 162.3,664.4" fill="#e31a1c"/><polygon points="158.7,654.6 153.5,664.1 163.9,664.1" fill="#e31a1c"/><polygon points="160.3,654.7 155.1,664.2 165.5,664.2" fill="#e31a1c"/><polygon points="161.9,654.6 156.7,664.1 167.1,664.1" fill="#e31a1c"/><polygon points="163.5,655.2 158.3,664.7 168.7,664.7" fill="#e31a1c"/><polygon points="165.1,655.8 159.9,665.3 170.3,665.3" fill="#e31a1c"/><polygon points="166.7,655.7 161.5,665.2 171.9,665.2" fill="#e31a1c"/><polygon points="168.3,655.9 163.1,665.4 173.5,665.4" fill="#e31a1c"/><polygon points="169.9,655.9 164.7,665.4 175.1,665.4" fill="#e31a1c"/><polygon points="171.5,655.5 166.3,665.0 176.7,665.0" fill="#e31a1c"/><polygon points="173.1,654.4 167.9,663.9 178.3,663.9" fill="#e31a1c"/><polygon points="174.7,654.4 169.5,663.9 179.9,663.9" fill="#e31a1c"/><polygon points="176.3,653.8 171.1,663.3 181.5,663.3" fill="#e31a1c"/><polygon points="177.9,652.7 172.7,662.2 183.1,662.2" fill="#e31a1c"/><polygon points="179.5,652.1 174.3,661.6 184.7,661.6" fill="#e31a1c"/><polygon points="181.1,651.9 175.9,661.4 186.3,661.4" fill="#e31a1c"/><polygon points="182.7,651.9 177.5,661.4 187.9,661.4" fill="#e31a1c"/><polygon points="184.3,652.3 179.1,661.8 189.5,661.8" fill="#e31a1c"/><polygon points="185.9,652.2 180.7,661.7 191.1,661.7" fill="#e31a1c"/><polygon points="187.5,652.2 182.3,661.7 192.7,661.7" fill="#e31a1c"/><polygon points="189.1,652.5 183.9,662.0 194.3,662.0" fill="#e31a1c"/><polygon points="190.7,653.2 185.5,662.7 195.9,662.7" fill="#e31a1c"/><polygon points="192.3,653.2 187.1,662.7 197.5,662.7" fill="#e31a1c"/><polygon points="193.9,654.6 188.7,664.1 199.1,664.1" fill="#e31a1c"/><polygon points="195.5,654.8 190.3,664.3 200.7,664.3" fill="#e31a1c"/><polygon points="197.1,655.0 191.9,664.5 202.3,664.5" fill="#e31a1c"/><polygon points="198.7,654.9 193.5,664.4 203.9,664.4" fill="#e31a1c"/><polygon points="200.3,654.4 195.1,663.9 205.5,663.9" fill="#e31a1c"/><polygon points="201.9,654.4 196.7,663.9 207.1,663.9" fill="#e31a1c"/><polygon points="203.5,654.1 198.3,663.6 208.7,663.6" fill="#e31a1c"/><polygon points="205.1,654.6 199.9,664.1 210.3,664.1" fill="#e31a1c"/><polygon points="206.7,654.0 201.5,663.5 211.9,663.5" fill="#e31a1c"/><polygon points="208.3,654.0 203.1,663.5 213.5,663.5" fill="#e31a1c"/><polygon points="209.9,653.8 204.7,663.3 215.1,663.3" fill="#e31a1c"/><polygon points="211.5,653.2 206.3,662.7 216.7,662.7" fill="#e31a1c"/><polygon points="212.7,653.6 207.5,663.1 217.9,663.1" fill="#e31a1c"/><polygon points="217.2,653.2 212.0,662.7 222.4,662.7" fill="#e31a1c"/><polygon points="223.9,652.7 218.7,662.2 229.1,662.2" fill="#e31a1c"/><polygon points="229.9,653.2 224.7,662.7 235.1,662.7" fill="#e31a1c"/><polygon points="238.1,653.2 232.9,662.7 243.3,662.7" fill="#e31a1c"/><polygon points="245.7,653.2 240.5,662.7 250.9,662.7" fill="#e31a1c"/><polygon points="254.6,652.3 249.4,661.8 259.8,661.8" fill="#e31a1c"/><polygon points="263.5,651.4 258.3,660.9 268.7,660.9" fill="#e31a1c"/><polygon points="273.4,650.4 268.2,659.9 278.6,659.9" fill="#e31a1c"/><polygon points="283.9,649.8 278.7,659.3 289.1,659.3" fill="#e31a1c"/><polygon points="294.7,648.9 289.5,658.4 299.9,658.4" fill="#e31a1c"/><polygon points="306.1,645.9 300.9,655.4 311.3,655.4" fill="#e31a1c"/><polygon points="318.8,640.2 313.6,649.7 324.0,649.7" fill="#e31a1c"/><polygon points="331.2,634.4 326.1,643.9 336.4,643.9" fill="#e31a1c"/><polygon points="343.0,626.9 337.8,636.4 348.2,636.4" fill="#e31a1c"/><polygon points="356.5,618.4 351.3,627.9 361.7,627.9" fill="#e31a1c"/><polygon points="368.0,609.4 362.8,618.9 373.2,618.9" fill="#e31a1c"/><polygon points="379.8,598.9 374.6,608.4 384.9,608.4" fill="#e31a1c"/><polygon points="393.0,586.4 387.8,595.9 398.2,595.9" fill="#e31a1c"/><polygon points="404.8,574.4 399.6,583.9 409.9,583.9" fill="#e31a1c"/><polygon points="416.5,560.4 411.3,569.9 421.7,569.9" fill="#e31a1c"/><polygon points="428.0,544.9 422.8,554.4 433.2,554.4" fill="#e31a1c"/><polygon points="437.2,529.9 432.1,539.4 442.4,539.4" fill="#e31a1c"/><polygon points="448.2,513.4 443.1,522.9 453.4,522.9" fill="#e31a1c"/><polygon points="460.0,497.9 454.8,507.4 465.2,507.4" fill="#e31a1c"/><polygon points="469.2,481.9 464.1,491.4 474.4,491.4" fill="#e31a1c"/><polygon points="478.2,465.4 473.1,474.9 483.4,474.9" fill="#e31a1c"/><polygon points="487.5,450.4 482.3,459.9 492.7,459.9" fill="#e31a1c"/><polygon points="499.2,435.9 494.1,445.4 504.4,445.4" fill="#e31a1c"/><polygon points="508.0,422.9 502.8,432.4 513.2,432.4" fill="#e31a1c"/><polygon points="517.5,410.4 512.3,419.9 522.7,419.9" fill="#e31a1c"/><polygon points="526.8,398.6 521.5,408.1 532.0,408.1" fill="#e31a1c"/><polygon points="535.8,387.1 530.5,396.6 541.0,396.6" fill="#e31a1c"/><polygon points="545.0,374.9 539.8,384.4 550.2,384.4" fill="#e31a1c"/><polygon points="554.2,361.6 549.0,371.1 559.5,371.1" fill="#e31a1c"/><polygon points="563.2,346.9 558.0,356.4 568.5,356.4" fill="#e31a1c"/><polygon points="570.0,328.9 564.8,338.4 575.2,338.4" fill="#e31a1c"/><polygon points="579.2,309.9 574.0,319.4 584.5,319.4" fill="#e31a1c"/><polygon points="586.2,289.4 581.0,298.9 591.5,298.9" fill="#e31a1c"/><polygon points="593.0,266.4 587.8,275.9 598.2,275.9" fill="#e31a1c"/><polygon points="602.0,244.4 596.8,253.9 607.2,253.9" fill="#e31a1c"/><polygon points="608.8,224.4 603.5,233.9 614.0,233.9" fill="#e31a1c"/><polygon points="615.8,206.4 610.5,215.9 621.0,215.9" fill="#e31a1c"/><polygon points="623.2,187.4 618.0,196.9 628.5,196.9" fill="#e31a1c"/><polygon points="630.8,170.1 625.5,179.6 636.0,179.6" fill="#e31a1c"/><polygon points="638.2,156.4 633.0,165.9 643.5,165.9" fill="#e31a1c"/><polygon points="644.5,145.1 639.3,154.6 649.7,154.6" fill="#e31a1c"/><polygon points="650.8,136.4 645.5,145.9 656.0,145.9" fill="#e31a1c"/><polygon points="657.0,130.1 651.8,139.6 662.2,139.6" fill="#e31a1c"/><polygon points="663.2,123.9 658.0,133.4 668.5,133.4" fill="#e31a1c"/><polygon points="669.5,118.9 664.3,128.4 674.7,128.4" fill="#e31a1c"/><polygon points="675.8,111.4 670.5,120.9 681.0,120.9" fill="#e31a1c"/><polygon points="682.0,101.4 676.8,110.9 687.2,110.9" fill="#e31a1c"/><polygon points="687.0,93.9 681.8,103.4 692.2,103.4" fill="#e31a1c"/><polygon points="693.2,84.4 688.0,93.9 698.5,93.9" fill="#e31a1c"/><polygon points="699.5,75.4 694.3,84.9 704.7,84.9" fill="#e31a1c"/><polygon points="705.5,67.9 700.3,77.4 710.7,77.4" fill="#e31a1c"/><polygon points="711.2,61.4 706.0,70.9 716.5,70.9" fill="#e31a1c"/><polygon points="717.5,55.1 712.3,64.6 722.7,64.6" fill="#e31a1c"/><polygon points="723.8,51.4 718.5,60.9 729.0,60.9" fill="#e31a1c"/><polygon points="730.0,50.9 724.8,60.4 735.2,60.4" fill="#e31a1c"/><polygon points="736.2,53.4 731.0,62.9 741.5,62.9" fill="#e31a1c"/><polygon points="742.5,57.6 737.3,67.1 747.7,67.1" fill="#e31a1c"/><polygon points="748.8,62.6 743.5,72.1 754.0,72.1" fill="#e31a1c"/><polygon points="755.0,67.6 749.8,77.1 760.2,77.1" fill="#e31a1c"/><polygon points="761.2,72.6 756.0,82.1 766.5,82.1" fill="#e31a1c"/><polygon points="767.5,76.4 762.3,85.9 772.7,85.9" fill="#e31a1c"/><polygon points="773.8,77.6 768.5,87.1 779.0,87.1" fill="#e31a1c"/><polygon points="780.0,73.9 774.8,83.4 785.2,83.4" fill="#e31a1c"/><polygon points="786.2,68.9 781.0,78.4 791.5,78.4" fill="#e31a1c"/><polygon points="792.5,67.1 787.3,76.6 797.7,76.6" fill="#e31a1c"/><polygon points="798.8,68.4 793.5,77.9 804.0,77.9" fill="#e31a1c"/><polygon points="805.0,71.4 799.8,80.9 810.2,80.9" fill="#e31a1c"/><polygon points="810.0,75.1 804.8,84.6 815.2,84.6" fill="#e31a1c"/><polygon points="815.0,81.4 809.8,90.9 820.2,90.9" fill="#e31a1c"/><polygon points="818.8,88.9 813.5,98.4 824.0,98.4" fill="#e31a1c"/><polygon points="823.8,98.9 818.5,108.4 829.0,108.4" fill="#e31a1c"/><polygon points="830.0,108.9 824.8,118.4 835.2,118.4" fill="#e31a1c"/><polygon points="835.0,117.6 829.8,127.1 840.2,127.1" fill="#e31a1c"/><polygon points="840.0,123.9 834.8,133.4 845.2,133.4" fill="#e31a1c"/><polygon points="846.2,125.5 841.0,135.0 851.5,135.0" fill="#e31a1c"/><polygon points="852.5,126.1 847.3,135.6 857.7,135.6" fill="#e31a1c"/><polygon points="856.8,127.9 851.6,137.4 862.0,137.4" fill="#e31a1c"/><polygon points="860.8,132.4 855.6,141.9 866.0,141.9" fill="#e31a1c"/><polygon points="863.3,139.6 858.1,149.1 868.5,149.1" fill="#e31a1c"/><polygon points="868.2,150.4 863.0,159.9 873.4,159.9" fill="#e31a1c"/><polygon points="873.2,162.8 868.0,172.3 878.4,172.3" fill="#e31a1c"/><polygon points="875.4,179.9 870.2,189.4 880.6,189.4" fill="#e31a1c"/><polygon points="879.9,197.7 874.7,207.2 885.1,207.2" fill="#e31a1c"/><polygon points="882.4,218.5 877.2,228.0 887.6,228.0" fill="#e31a1c"/><polygon points="884.6,241.6 879.4,251.1 889.8,251.1" fill="#e31a1c"/><polygon points="887.0,263.0 881.8,272.5 892.2,272.5" fill="#e31a1c"/><polygon points="887.1,281.9 881.9,291.4 892.3,291.4" fill="#e31a1c"/><polygon points="887.1,295.3 881.9,304.8 892.3,304.8" fill="#e31a1c"/><polygon points="887.1,301.9 881.9,311.4 892.3,311.4" fill="#e31a1c"/></g><rect x="106.2" y="16.25" width="804.0" height="648.25" fill="none" stroke="#000" stroke-width="3"/><line x1="93" y1="664.50" x2="106.2" y2="664.50" stroke="#000" stroke-width="2.6"/><text transform="translate(84.3,672.70) scale(1,1.045)" text-anchor="end" class="tl">0</text><line x1="99.5" y1="632.09" x2="106.2" y2="632.09" stroke="#000" stroke-width="2.6"/><line x1="93" y1="599.67" x2="106.2" y2="599.67" stroke="#000" stroke-width="2.6"/><text transform="translate(84.3,607.88) scale(1,1.045)" text-anchor="end" class="tl">10</text><line x1="99.5" y1="567.26" x2="106.2" y2="567.26" stroke="#000" stroke-width="2.6"/><line x1="93" y1="534.85" x2="106.2" y2="534.85" stroke="#000" stroke-width="2.6"/><text transform="translate(84.3,543.05) scale(1,1.045)" text-anchor="end" class="tl">20</text><line x1="99.5" y1="502.44" x2="106.2" y2="502.44" stroke="#000" stroke-width="2.6"/><line x1="93" y1="470.02" x2="106.2" y2="470.02" stroke="#000" stroke-width="2.6"/><text transform="translate(84.3,478.22) scale(1,1.045)" text-anchor="end" class="tl">30</text><line x1="99.5" y1="437.61" x2="106.2" y2="437.61" stroke="#000" stroke-width="2.6"/><line x1="93" y1="405.20" x2="106.2" y2="405.20" stroke="#000" stroke-width="2.6"/><text transform="translate(84.3,413.40) scale(1,1.045)" text-anchor="end" class="tl">40</text><line x1="99.5" y1="372.79" x2="106.2" y2="372.79" stroke="#000" stroke-width="2.6"/><line x1="93" y1="340.38" x2="106.2" y2="340.38" stroke="#000" stroke-width="2.6"/><text transform="translate(84.3,348.57) scale(1,1.045)" text-anchor="end" class="tl">50</text><line x1="99.5" y1="307.96" x2="106.2" y2="307.96" stroke="#000" stroke-width="2.6"/><line x1="93" y1="275.55" x2="106.2" y2="275.55" stroke="#000" stroke-width="2.6"/><text transform="translate(84.3,283.75) scale(1,1.045)" text-anchor="end" class="tl">60</text><line x1="99.5" y1="243.14" x2="106.2" y2="243.14" stroke="#000" stroke-width="2.6"/><line x1="93" y1="210.73" x2="106.2" y2="210.73" stroke="#000" stroke-width="2.6"/><text transform="translate(84.3,218.93) scale(1,1.045)" text-anchor="end" class="tl">70</text><line x1="99.5" y1="178.31" x2="106.2" y2="178.31" stroke="#000" stroke-width="2.6"/><line x1="93" y1="145.90" x2="106.2" y2="145.90" stroke="#000" stroke-width="2.6"/><text transform="translate(84.3,154.10) scale(1,1.045)" text-anchor="end" class="tl">80</text><line x1="99.5" y1="113.49" x2="106.2" y2="113.49" stroke="#000" stroke-width="2.6"/><line x1="93" y1="81.08" x2="106.2" y2="81.08" stroke="#000" stroke-width="2.6"/><text transform="translate(84.3,89.28) scale(1,1.045)" text-anchor="end" class="tl">90</text><line x1="99.5" y1="48.66" x2="106.2" y2="48.66" stroke="#000" stroke-width="2.6"/><line x1="93" y1="16.25" x2="106.2" y2="16.25" stroke="#000" stroke-width="2.6"/><text transform="translate(84.3,24.45) scale(1,1.045)" text-anchor="end" class="tl">100</text><line x1="106.20" y1="664.5" x2="106.20" y2="677.5" stroke="#000" stroke-width="2.6"/><text transform="translate(106.00,707.7) scale(1,1.045)" text-anchor="middle" class="tl">0.000</text><line x1="163.63" y1="664.5" x2="163.63" y2="670.8" stroke="#000" stroke-width="2.6"/><line x1="221.06" y1="664.5" x2="221.06" y2="677.5" stroke="#000" stroke-width="2.6"/><text transform="translate(220.86,707.7) scale(1,1.045)" text-anchor="middle" class="tl">0.005</text><line x1="278.49" y1="664.5" x2="278.49" y2="670.8" stroke="#000" stroke-width="2.6"/><line x1="335.91" y1="664.5" x2="335.91" y2="677.5" stroke="#000" stroke-width="2.6"/><text transform="translate(335.71,707.7) scale(1,1.045)" text-anchor="middle" class="tl">0.010</text><line x1="393.34" y1="664.5" x2="393.34" y2="670.8" stroke="#000" stroke-width="2.6"/><line x1="450.77" y1="664.5" x2="450.77" y2="677.5" stroke="#000" stroke-width="2.6"/><text transform="translate(450.57,707.7) scale(1,1.045)" text-anchor="middle" class="tl">0.015</text><line x1="508.20" y1="664.5" x2="508.20" y2="670.8" stroke="#000" stroke-width="2.6"/><line x1="565.63" y1="664.5" x2="565.63" y2="677.5" stroke="#000" stroke-width="2.6"/><text transform="translate(565.43,707.7) scale(1,1.045)" text-anchor="middle" class="tl">0.020</text><line x1="623.06" y1="664.5" x2="623.06" y2="670.8" stroke="#000" stroke-width="2.6"/><line x1="680.49" y1="664.5" x2="680.49" y2="677.5" stroke="#000" stroke-width="2.6"/><text transform="translate(680.29,707.7) scale(1,1.045)" text-anchor="middle" class="tl">0.025</text><line x1="737.91" y1="664.5" x2="737.91" y2="670.8" stroke="#000" stroke-width="2.6"/><line x1="795.34" y1="664.5" x2="795.34" y2="677.5" stroke="#000" stroke-width="2.6"/><text transform="translate(795.14,707.7) scale(1,1.045)" text-anchor="middle" class="tl">0.030</text><line x1="852.77" y1="664.5" x2="852.77" y2="670.8" stroke="#000" stroke-width="2.6"/><line x1="910.20" y1="664.5" x2="910.20" y2="677.5" stroke="#000" stroke-width="2.6"/><text transform="translate(910.00,707.7) scale(1,1.045)" text-anchor="middle" class="tl">0.035</text><line x1="214" y1="73.3" x2="281.5" y2="73.3" stroke="#33a02c" stroke-width="3.5" stroke-linecap="round"/><rect x="243.7" y="69.3" width="8.0" height="8.0" fill="#33a02c"/><text x="289.5" y="85.6" class="lg">0.15-1</text><line x1="214" y1="114.7" x2="281.5" y2="114.7" stroke="#fb9a99" stroke-width="3.5" stroke-linecap="round"/><circle cx="247.7" cy="114.7" r="4.3" fill="#fb9a99"/><text x="289.5" y="127.0" class="lg">0.15-2</text><line x1="214" y1="156.1" x2="281.5" y2="156.1" stroke="#e31a1c" stroke-width="3.5" stroke-linecap="round"/><polygon points="247.7,150.0 242.7,159.5 252.7,159.5" fill="#e31a1c"/><text x="289.5" y="168.4" class="lg">0.15-3</text><text transform="translate(446.9,763.8) scale(1.012,1.05)" class="tt">Strain</text><text transform="translate(555.3,763.6) scale(1.2,1.03)" class="ep">ε</text><text transform="translate(28.6,443.8) rotate(-90) scale(1.005,1.05)" class="tt">Stress</text><text transform="translate(28.9,349.6) rotate(-90) scale(1.15,0.9)" class="sg">σ</text><text transform="translate(28.6,328.3) rotate(-90) scale(1.012,1.05)" class="tt">(MPa)</text></svg>
</body></html>
